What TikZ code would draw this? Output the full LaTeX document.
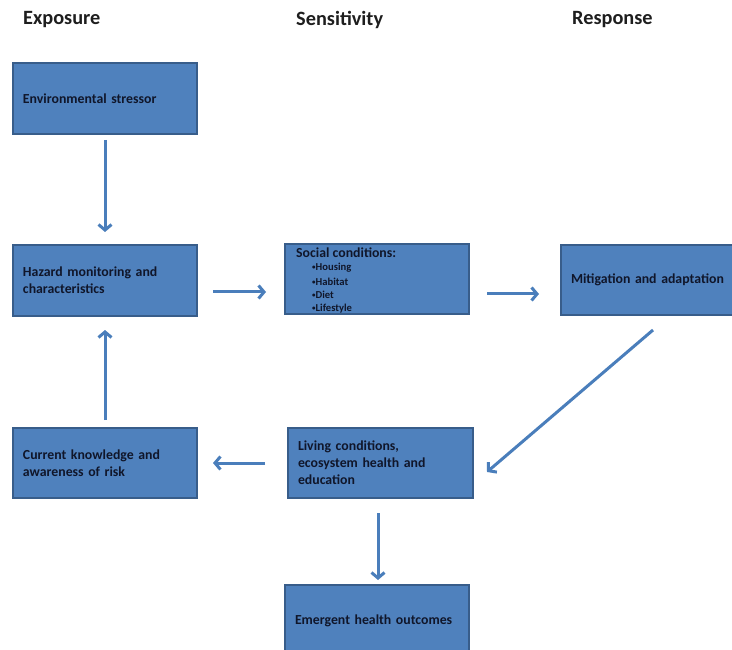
\documentclass[tikz,border=0pt]{standalone}
\usepackage{fontspec}
\setmainfont{Carlito}
\usetikzlibrary{arrows.meta}
\definecolor{boxfill}{HTML}{4F81BD}
\definecolor{boxline}{HTML}{385D8A}
\definecolor{arrcol}{HTML}{4A7EBB}
\definecolor{txtcol}{HTML}{10162A}
\definecolor{hdcol}{HTML}{1E1E1E}
\newcommand{\smbul}{\raisebox{0.9pt}{\fontsize{7}{7}\selectfont •}}
\tikzset{
  box/.style={draw=boxline, line width=1.5pt, fill=boxfill, anchor=north west,
    inner xsep=10pt, inner ysep=0pt, outer sep=0pt, align=left,
    font=\fontsize{13.8}{17}\selectfont\bfseries, text=txtcol},
  hdr/.style={anchor=west, inner sep=0pt, font=\fontsize{20.3}{24}\selectfont\bfseries, text=hdcol},
  sub/.style={anchor=west, inner sep=0pt, font=\fontsize{13.8}{16}\selectfont\bfseries, text=txtcol},
  bul/.style={anchor=west, inner sep=0pt, font=\fontsize{10.6}{12}\selectfont\bfseries, text=txtcol},
  arr/.style={draw=arrcol, line width=3pt, -{Straight Barb[length=5.5pt,width=13pt]}}
}
\begin{document}
\begin{tikzpicture}[x=1pt,y=-1pt]
\useasboundingbox (0,0) rectangle (732,650);
% headers
\node[hdr] (h1) at (23,20) {Exposure};
\node[hdr] (h2) at (296,20) {Sensitivity};
\node[hdr] (h3) at (572,20) {Response};
% boxes
\node[box, text width=164pt, minimum height=71pt] (env) at (13,63) {Environmental stressor};
\node[box, text width=164pt, minimum height=71pt] (haz) at (13,245) {Hazard monitoring and\\characteristics};
\node[box, text width=164pt, minimum height=70pt] (soc) at (285,244) {};
\node[box, text width=153pt, minimum height=70pt] (mit) at (561,245) {Mitigation and adaptation};
\node[box, text width=164pt, minimum height=70pt] (cur) at (13,428) {Current knowledge and\\awareness of risk};
\node[box, text width=165pt, minimum height=70pt] (liv) at (288,428) {Living conditions,\\ecosystem health and\\education};
\node[box, text width=164pt, minimum height=72pt] (emg) at (285,585) {Emergent health outcomes};
% social text
\node[sub] (s0) at (296,253) {Social conditions:};
\node[bul] (s1) at (312,268) {\smbul Housing};
\node[bul] (s2) at (312,281.5) {\smbul Habitat};
\node[bul] (s3) at (312,295) {\smbul Diet};
\node[bul] (s4) at (312,308.5) {\smbul Lifestyle};
% arrows
\draw[arr, shorten <=6pt, shorten >=13pt] (env.south) -- (haz.north);
\draw[arr, shorten <=16pt, shorten >=19pt] ([yshift=-11.5pt]haz.east) -- ([yshift=-11.5pt]haz.east -| soc.west);
\draw[arr, shorten <=18pt, shorten >=22pt] ([yshift=-15pt]soc.east) -- ([yshift=-15pt]soc.east -| mit.west);
\coordinate (d1) at (653,330);
\coordinate (d2) at (487,472);
\draw[arr] (d1) -- (d2);
\draw[arr, shorten <=23pt, shorten >=16pt] (liv.west) -- (liv.west -| cur.east);
\draw[arr, shorten <=8pt, shorten >=14pt] (cur.north) -- (haz.south);
\draw[arr, shorten <=15pt, shorten >=5pt] ([xshift=-2.5pt]liv.south) -- ([xshift=-2.5pt]liv.south |- emg.north);
\end{tikzpicture}
\end{document}
